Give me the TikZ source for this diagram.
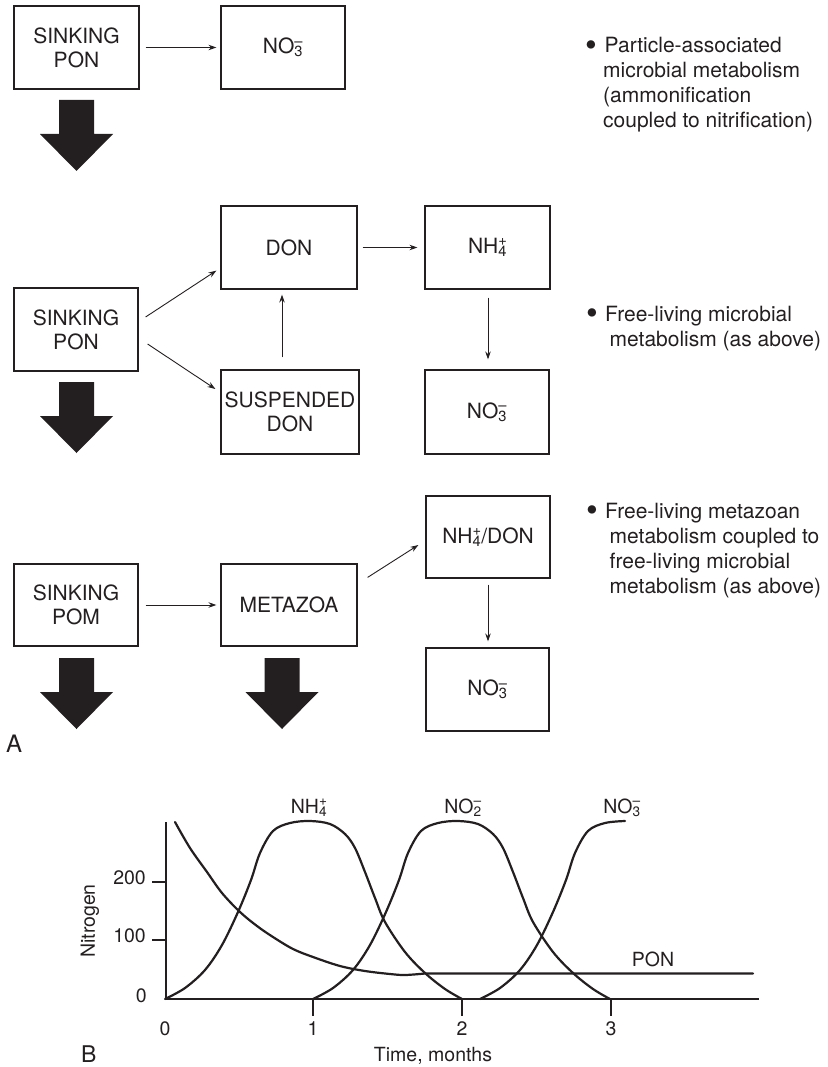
\documentclass[tikz,border=0pt]{standalone}
\usepackage{fontspec}
\setmainfont{TeX Gyre Heros}
\usetikzlibrary{arrows.meta,calc}
\definecolor{ink}{HTML}{231F20}
\newcommand\chem[3]{#1\rlap{\textsuperscript{#3}}\textsubscript{#2}}
\newcommand\bigbul{\raisebox{-3.5pt}{\scalebox{1.6}{•}}}
\begin{document}
\begin{tikzpicture}[x=1pt,y=-1pt,
  box/.style={draw=ink,line width=1.2pt,inner sep=0pt,align=center,text=ink,
    font=\fontsize{21}{24}\selectfont},
  conn/.style={draw=ink,line width=0.9pt,-{Stealth[length=8pt,width=5.5pt]}},
  sink/.style={fill=ink},
  bul/.style={anchor=base west,inner sep=0pt,text=ink,font=\fontsize{21}{25}\selectfont},
  gtext/.style={inner sep=0pt,text=ink,font=\fontsize{19.5}{22}\selectfont},
  axisline/.style={draw=ink,line width=1.6pt},
  curve/.style={draw=ink,line width=2.2pt,line join=round,line cap=round}]
\useasboundingbox (0,0) rectangle (827,1067);

% ---------- Part A, row 1
\node[box,minimum width=125pt,minimum height=83pt] (sp1) at (76.5,47.5) {SINKING\\PON};
\node[box,minimum width=124pt,minimum height=83pt] (no3a) at (283,47.5) {\chem{NO}{3}{–}};
\draw[conn] ($(sp1.east)+(6,0)$) -- ($(no3a.west)+(-4,0)$);

% ---------- row 2
\node[box,minimum width=124pt,minimum height=83pt] (sp2) at (76,329.5) {SINKING\\PON};
\node[box,minimum width=136pt,minimum height=83pt] (don) at (289,247.5) {DON};
\node[box,minimum width=125pt,minimum height=83pt] (nh4) at (487.5,247.5) {\chem{NH}{4}{+}};
\node[box,minimum width=138pt,minimum height=84pt] (sdon) at (290,412) {SUSPENDED\\DON};
\node[box,minimum width=124pt,minimum height=84pt] (no3b) at (487,412) {\chem{NO}{3}{–}};
\draw[conn] ($(sp2.east)+(7,-12.5)$) -- ($(don.south west)+(-4,-19)$);
\draw[conn] ($(sp2.east)+(9,14.5)$) -- ($(sdon.west)+(-5,-23)$);
\draw[conn] ($(sdon.north)+(-8,-12)$) -- ($(don.south)+(-7,5)$);
\draw[conn] ($(don.east)+(5,0)$) -- ($(nh4.west)+(-7,0)$);
\draw[conn] ($(nh4.south)+(0.5,8)$) -- ($(no3b.north)+(1,-10)$);

% ---------- row 3
\node[box,minimum width=124pt,minimum height=82pt] (nhdon) at (488,537) {\chem{NH}{4}{+}/DON};
\node[box,minimum width=124pt,minimum height=82pt] (pom) at (76,605) {SINKING\\POM};
\node[box,minimum width=136pt,minimum height=82pt] (meta) at (289,605) {METAZOA};
\node[box,minimum width=123pt,minimum height=83pt] (no3c) at (487.5,689.5) {\chem{NO}{3}{–}};
\draw[conn] ($(pom.east)+(7,0)$) -- ($(meta.west)+(-4,0)$);
\draw[conn] ($(meta.north east)+(10,14)$) -- ($(nhdon.west)+(-7,8)$);
\draw[conn] ($(nhdon.south)+(0,6)$) -- ($(no3c.north)+(0.5,-6)$);

% ---------- sinking arrows
\foreach \p in {(76.5,100),(76.5,382),(76.5,658),(282,658)}
  \fill[sink,shift={\p}] (-17.5,0) -- (17.5,0) -- (17.5,34) -- (36.5,34) -- (0,71)
     -- (-36.5,34) -- (-17.5,34) -- cycle;

\node[anchor=base west,inner sep=0pt,text=ink,font=\fontsize{24}{24}\selectfont] (lblA) at (6,752) {A};

% ---------- bullet texts
\node[bul] (b1) at (585,53) {\bigbul};
\node[bul] (t1a) at (604.5,53) {Particle-associated};
\node[bul] (t1b) at (603,78) {microbial metabolism};
\node[bul] (t1c) at (603,103) {(ammonification};
\node[bul] (t1d) at (603,128) {coupled to nitrification)};

\node[bul] (b2) at (586,321) {\bigbul};
\node[bul] (t2a) at (605,321) {Free-living microbial};
\node[bul] (t2b) at (609.5,346) {metabolism (as above)};

\node[bul] (b3) at (586,518) {\bigbul};
\node[bul] (t3a) at (605,518) {Free-living metazoan};
\node[bul] (t3b) at (609.5,543) {metabolism coupled to};
\node[bul] (t3c) at (609.5,568) {free-living microbial};
\node[bul] (t3d) at (609.5,593) {metabolism (as above)};

% ---------- Part B graph
\draw[axisline] (166,822) -- (166,999) -- (759,999);
\foreach \y in {882,940} \draw[axisline] (152,\y) -- (166,\y);
\foreach \x in {313,462,611} \draw[axisline] (\x,999) -- (\x,1016);

\node[gtext,anchor=mid east] (y200) at (146,882) {200};
\node[gtext,anchor=mid east] (y100) at (146,940) {100};
\node[gtext,anchor=mid east] (y0) at (147,1000) {0};
\node[gtext,anchor=base] (x0) at (165,1035) {0};
\node[gtext,anchor=base] (x1) at (313,1035) {1};
\node[gtext,anchor=base] (x2) at (462,1035) {2};
\node[gtext,anchor=base] (x3) at (611,1035) {3};
\node[gtext,rotate=90] (ylab) at (90,921) {Nitrogen};
\node[gtext,anchor=base] (xlab) at (433,1061) {Time, months};
\node[anchor=base west,inner sep=0pt,text=ink,font=\fontsize{23}{23}\selectfont] (lblB) at (81,1062) {B};

\node[gtext,anchor=base] (lnh4) at (309,813) {\chem{NH}{4}{+}};
\node[gtext,anchor=base] (lno2) at (463,813) {\chem{NO}{2}{–}};
\node[gtext,anchor=base] (lno3) at (622,813) {\chem{NO}{3}{–}};
\node[gtext,anchor=base] (lpon) at (653,966) {PON};

% NH4+ and NO2- curves
\foreach \s in {165,313}
\draw[curve,shift={(\s,0)}] plot[smooth,tension=0.55] coordinates {
 (0,999) (20,988) (40,970) (57,945) (73,912) (86,880) (95,853) (108,831) (125,823)
 (145,821) (165,824) (180,834) (190,848) (200,872) (210,898) (220,922) (240,952)
 (260,973) (280,989) (297,999)};
% NO3- curve
\draw[curve,shift={(480,0)}] plot[smooth,tension=0.55] coordinates {
 (0,999) (20,988) (40,970) (57,945) (73,912) (86,880) (95,853) (108,831) (125,823)
 (145,821)};
% PON curve
\draw[curve] plot[smooth,tension=0.55] coordinates {
 (175,822) (190,848) (207,872) (222,893) (240,912) (257,926) (273,937) (293,949)
 (313,957) (340,966) (365,971) (390,974) (405,975) (425,973.5)} -- (753,973.5);
\end{tikzpicture}
\end{document}
